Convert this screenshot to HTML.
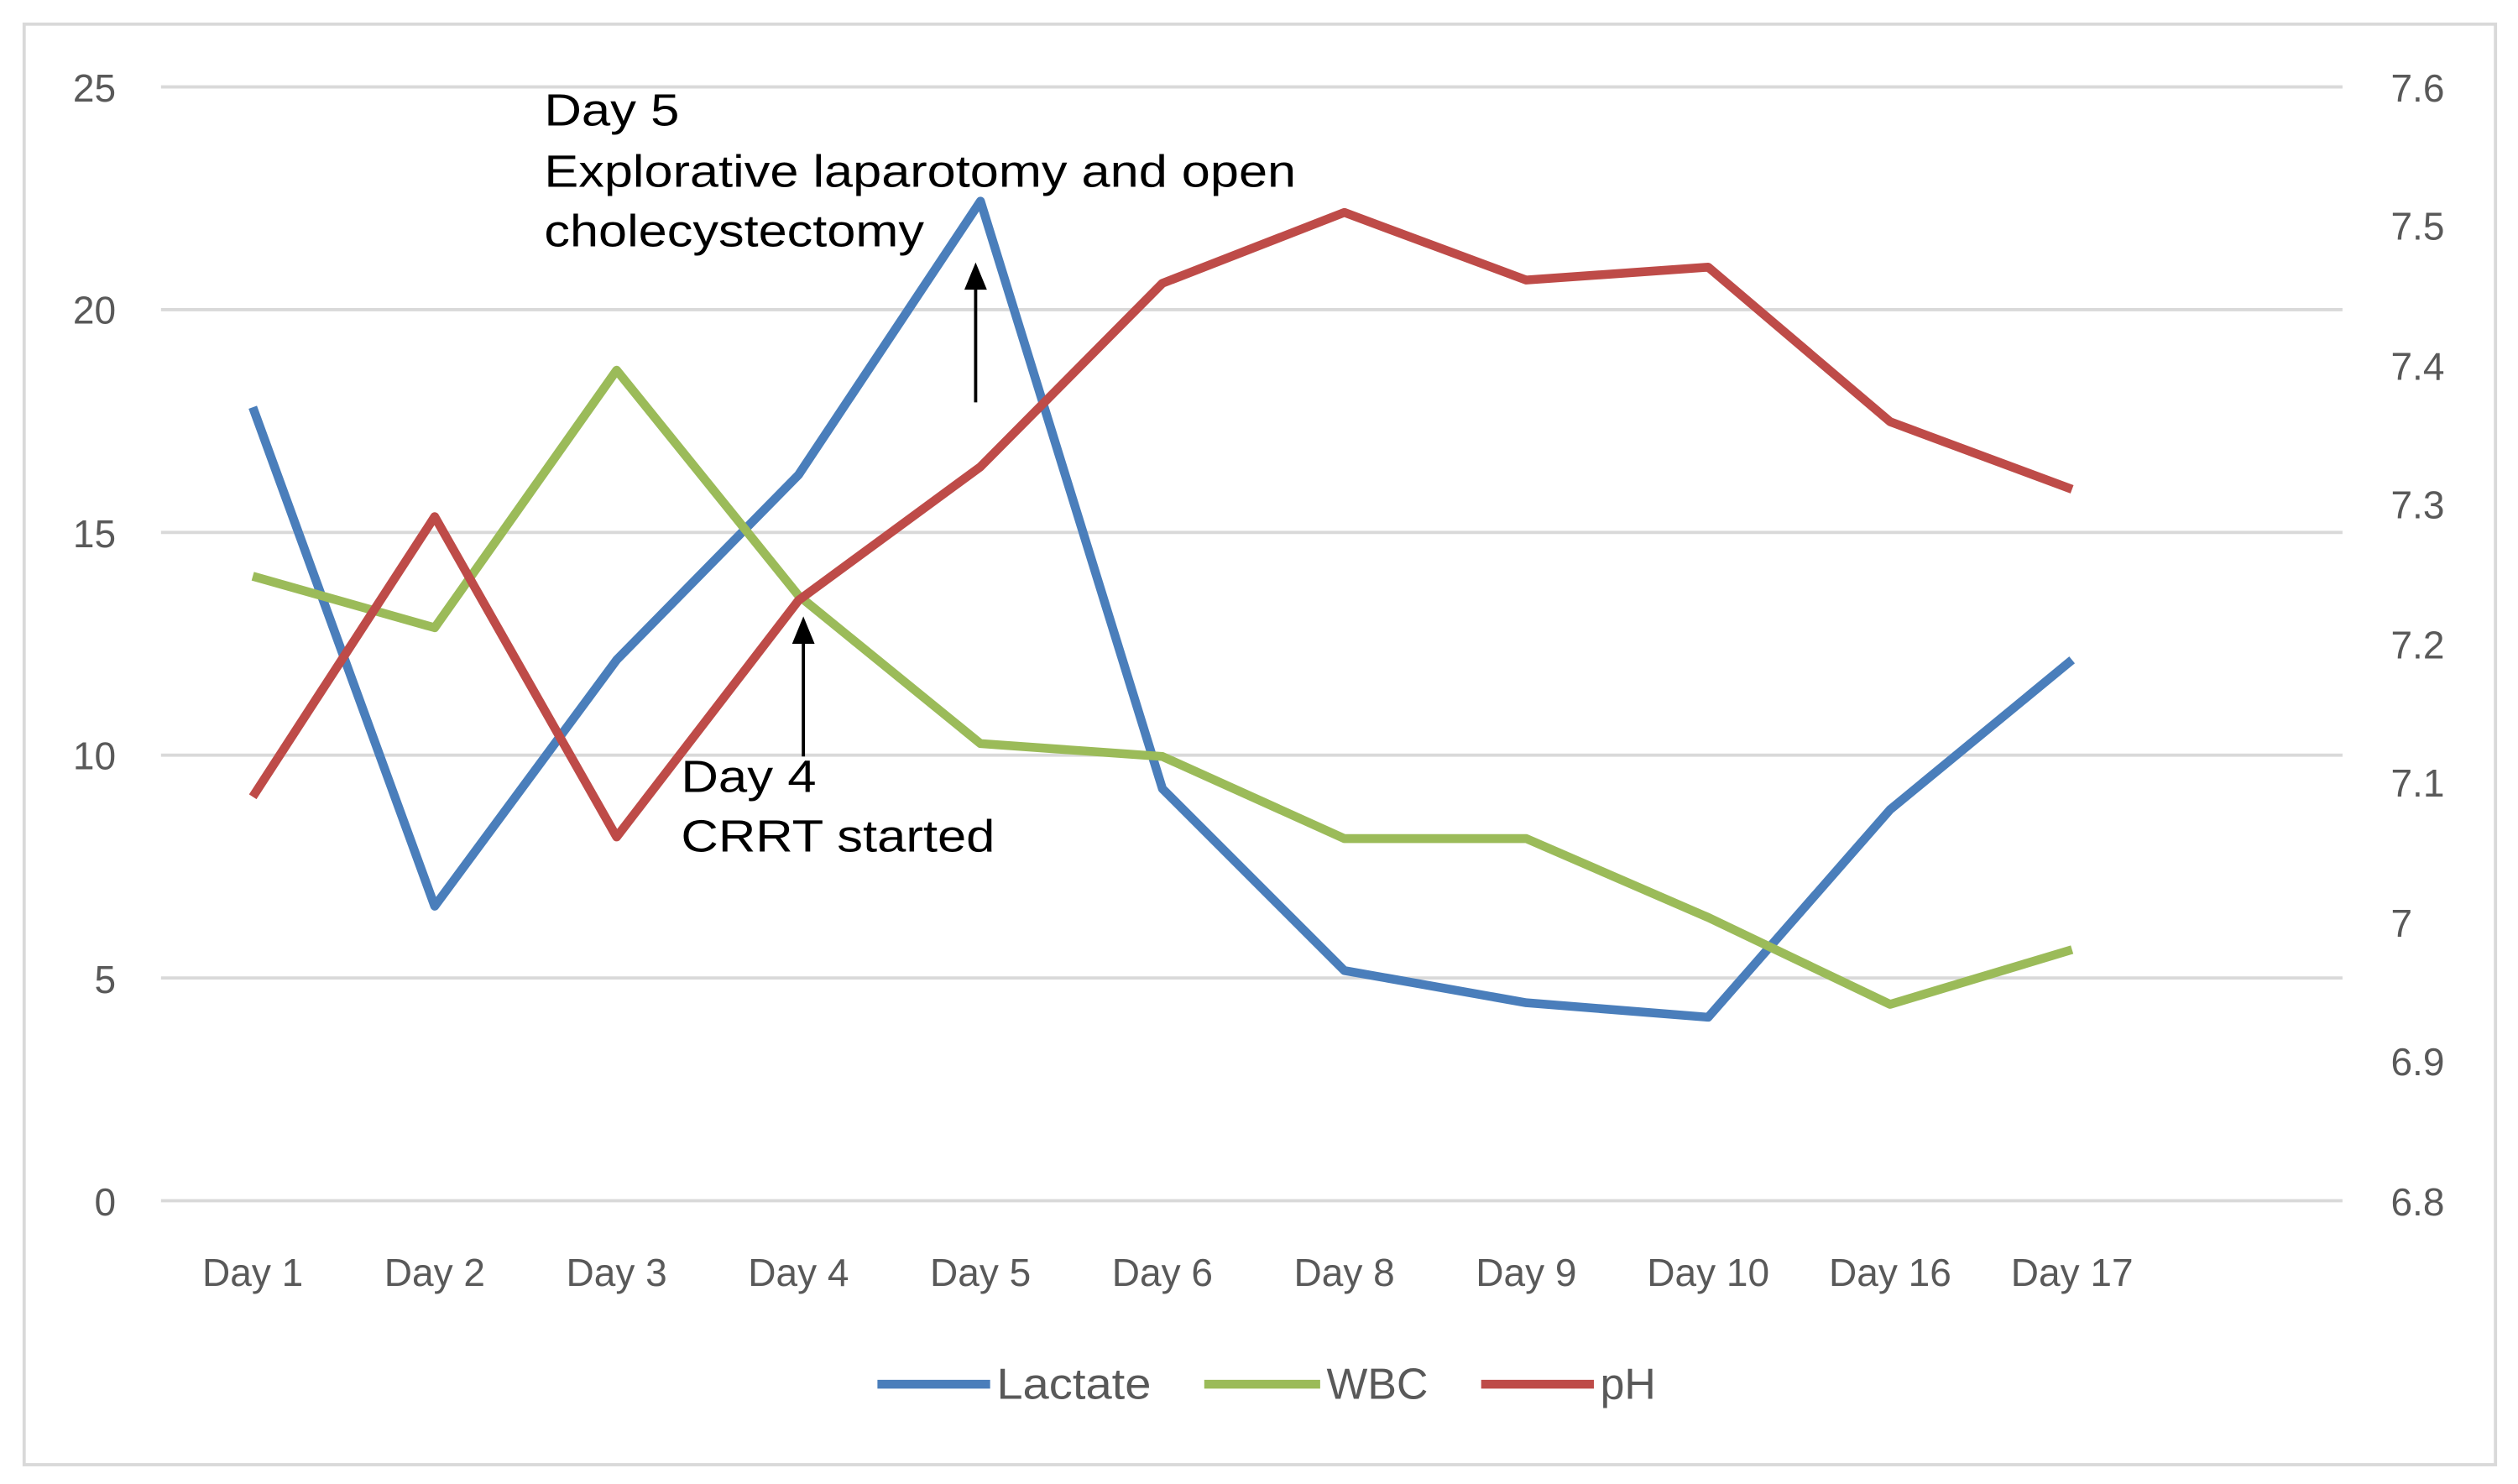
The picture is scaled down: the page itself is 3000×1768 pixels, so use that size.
<!DOCTYPE html>
<html><head><meta charset="utf-8"><style>
html,body{margin:0;padding:0;background:#fff;}
svg{display:block;}
text{font-family:"Liberation Sans",sans-serif;}
</style></head><body>
<svg width="3000" height="1768" viewBox="0 0 1564 922" preserveAspectRatio="none" xmlns="http://www.w3.org/2000/svg">
<rect x="0" y="0" width="1564" height="922" fill="#fff"/>
<rect x="15" y="15" width="1535" height="895" fill="none" stroke="#d9d9d9" stroke-width="2"/>
<g stroke="#d9d9d9" stroke-width="2">
<line x1="100" y1="54" x2="1455" y2="54"/>
<line x1="100" y1="192.4" x2="1455" y2="192.4"/>
<line x1="100" y1="330.8" x2="1455" y2="330.8"/>
<line x1="100" y1="469.2" x2="1455" y2="469.2"/>
<line x1="100" y1="607.6" x2="1455" y2="607.6"/>
<line x1="100" y1="746" x2="1455" y2="746"/>
</g>
<g font-size="24" fill="#595959" text-anchor="end">
<text x="72" y="63">25</text><text x="72" y="201">20</text><text x="72" y="340">15</text>
<text x="72" y="478">10</text><text x="72" y="617">5</text><text x="72" y="755">0</text>
</g>
<g font-size="24" fill="#595959" text-anchor="start">
<text x="1485" y="63">7.6</text><text x="1485" y="149">7.5</text><text x="1485" y="236">7.4</text>
<text x="1485" y="322">7.3</text><text x="1485" y="409">7.2</text><text x="1485" y="495">7.1</text>
<text x="1485" y="582">7</text><text x="1485" y="668">6.9</text><text x="1485" y="755">6.8</text>
</g>
<g font-size="24" fill="#595959" text-anchor="middle">
<text x="157" y="799">Day 1</text><text x="270" y="799">Day 2</text><text x="383" y="799">Day 3</text>
<text x="496" y="799">Day 4</text><text x="609" y="799">Day 5</text><text x="722" y="799">Day 6</text>
<text x="835" y="799">Day 8</text><text x="948" y="799">Day 9</text><text x="1061" y="799">Day 10</text>
<text x="1174" y="799">Day 16</text><text x="1287" y="799">Day 17</text>
</g>
<g fill="none" stroke-width="5.5" stroke-linejoin="round">
<polyline stroke="#4a7ebb" points="157,253 270,563 383,410 496,295 609,125 722,490 835,603 948,623 1061,632 1174,503 1287,410"/>
<polyline stroke="#9bbb59" points="157,358 270,390 383,230 496,370 609,462 722,470 835,521 948,521 1061,570 1174,624 1287,590"/>
<polyline stroke="#be4b48" points="157,495 270,321 383,520 496,373 609,290 722,176 835,132 948,174 1061,166 1174,262 1287,304"/>
</g>
<g stroke="#000" stroke-width="2"><line x1="606" y1="250" x2="606" y2="175"/><line x1="499" y1="470" x2="499" y2="395"/></g>
<polygon points="606,163 599,180 613,180" fill="#000"/>
<polygon points="499,383 492,400 506,400" fill="#000"/>
<g font-size="28" fill="#000">
<text x="338" y="78" textLength="84" lengthAdjust="spacingAndGlyphs">Day 5</text>
<text x="338" y="116" textLength="467" lengthAdjust="spacingAndGlyphs">Explorative laparotomy and open</text>
<text x="338" y="153" textLength="236" lengthAdjust="spacingAndGlyphs">cholecystectomy</text>
<text x="423" y="492" textLength="84" lengthAdjust="spacingAndGlyphs">Day 4</text>
<text x="423" y="529" textLength="195" lengthAdjust="spacingAndGlyphs">CRRT started</text>
</g>
<g stroke-width="5.5">
<line x1="545" y1="860" x2="615" y2="860" stroke="#4a7ebb"/>
<line x1="748" y1="860" x2="820" y2="860" stroke="#9bbb59"/>
<line x1="920" y1="860" x2="990" y2="860" stroke="#be4b48"/>
</g>
<g font-size="27" fill="#595959">
<text x="619" y="869" textLength="96" lengthAdjust="spacingAndGlyphs">Lactate</text><text x="824" y="869">WBC</text><text x="994" y="869">pH</text>
</g>
</svg>
</body></html>
